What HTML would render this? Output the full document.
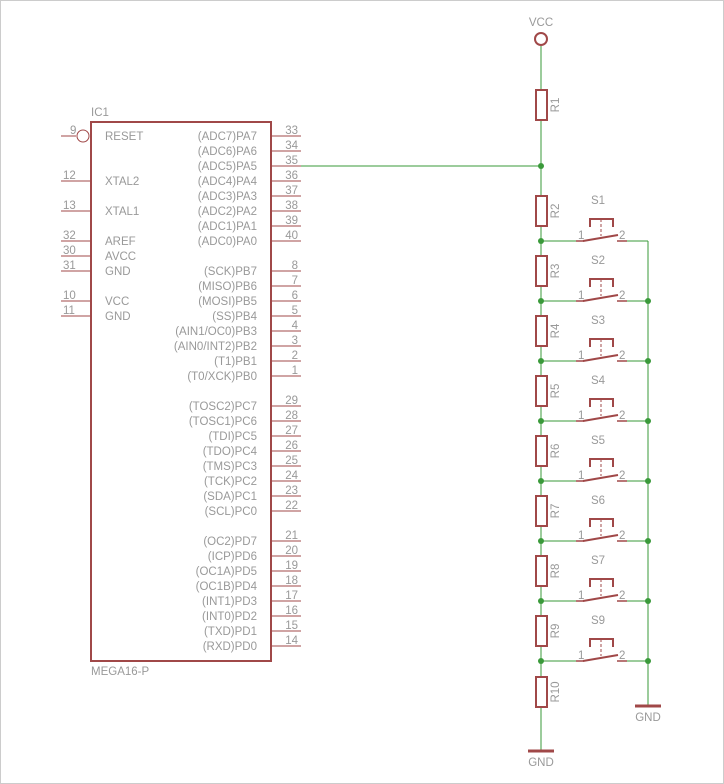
<!DOCTYPE html>
<html><head><style>body{margin:0;background:#fff}svg{display:block}text{font-family:"Liberation Sans",sans-serif;font-size:11.5px;fill:#999}</style></head><body>
<svg width="724" height="784" viewBox="0 0 724 784">
<rect x="0.5" y="0.5" width="723" height="783" fill="#fff" stroke="#ccc"/>
<g id="ic" stroke="#a04848" stroke-width="2" fill="none">
<rect x="91" y="122" width="180" height="539"/>
</g>
<g stroke="#a04848" stroke-width="1" id="pins"></g>
<g id="txt"></g>
<g id="sch"></g>
</svg>
<script>
const NS="http://www.w3.org/2000/svg";
function el(p,t,a,tx){const e=document.createElementNS(NS,t);for(const k in a)e.setAttribute(k,a[k]);if(tx!==undefined)e.textContent=tx;document.getElementById(p).appendChild(e);return e;}
const R="#a04848",G="#3a9a3a";
const L=[["9","RESET",136],["12","XTAL2",181],["13","XTAL1",211],["32","AREF",241],["30","AVCC",256],["31","GND",271],["10","VCC",301],["11","GND",316]];
L.forEach(([n,l,y],i)=>{
 el("pins","line",{x1:61,y1:y,x2:i==0?76:91,y2:y});
 el("txt","text",{x:i==0?70:63,y:y-2},n);
 el("txt","text",{x:105,y:y+4},l);
});
el("pins","circle",{cx:83,cy:136,r:6,fill:"none"});
const Rt=[["33","(ADC7)PA7"],["34","(ADC6)PA6"],["35","(ADC5)PA5"],["36","(ADC4)PA4"],["37","(ADC3)PA3"],["38","(ADC2)PA2"],["39","(ADC1)PA1"],["40","(ADC0)PA0"],
null,["8","(SCK)PB7"],["7","(MISO)PB6"],["6","(MOSI)PB5"],["5","(SS)PB4"],["4","(AIN1/OC0)PB3"],["3","(AIN0/INT2)PB2"],["2","(T1)PB1"],["1","(T0/XCK)PB0"],
null,["29","(TOSC2)PC7"],["28","(TOSC1)PC6"],["27","(TDI)PC5"],["26","(TDO)PC4"],["25","(TMS)PC3"],["24","(TCK)PC2"],["23","(SDA)PC1"],["22","(SCL)PC0"],
null,["21","(OC2)PD7"],["20","(ICP)PD6"],["19","(OC1A)PD5"],["18","(OC1B)PD4"],["17","(INT1)PD3"],["16","(INT0)PD2"],["15","(TXD)PD1"],["14","(RXD)PD0"]];
Rt.forEach((r,i)=>{if(!r)return;const y=136+i*15;
 el("pins","line",{x1:271,y1:y,x2:301,y2:y});
 el("txt","text",{x:298,y:y-2,"text-anchor":"end"},r[0]);
 el("txt","text",{x:257,y:y+4,"text-anchor":"end"},r[1]);
});
el("txt","text",{x:91,y:116},"IC1");
el("txt","text",{x:91,y:675},"MEGA16-P");
const X=541,XR=648;
el("sch","line",{x1:301,y1:166,x2:X,y2:166,stroke:G});
el("sch","line",{x1:X,y1:46,x2:X,y2:750,stroke:G});
el("sch","line",{x1:XR,y1:241,x2:XR,y2:706,stroke:G});
el("sch","circle",{cx:X,cy:39,r:6,fill:"#fff",stroke:R,"stroke-width":2});
el("txt","text",{x:X,y:26,"text-anchor":"middle"},"VCC");
function res(cy,name){el("sch","rect",{x:X-5,y:cy-15,width:11,height:30,fill:"#fff",stroke:R,"stroke-width":2});
 el("txt","text",{x:0,y:0,transform:`translate(${X+18},${cy}) rotate(-90)`,"text-anchor":"middle","font-size":"12.5"},name);}
res(105,"R1");res(211,"R2");
const ys=[241,301,361,421,481,541,601,661];
const sn=["S1","S2","S3","S4","S5","S6","S7","S9"];
for(let i=1;i<ys.length;i++)res((ys[i-1]+ys[i])/2,"R"+(i+2));
res(692,"R10");
ys.forEach((y,i)=>{
 el("sch","line",{x1:X,y1:y,x2:576,y2:y,stroke:G});
 el("sch","line",{x1:627,y1:y,x2:XR,y2:y,stroke:G});
 el("sch","line",{x1:576,y1:y,x2:584,y2:y,stroke:R,"stroke-width":1.5});
 el("sch","line",{x1:583,y1:y,x2:618,y2:y-6,stroke:R,"stroke-width":2});
 el("sch","line",{x1:617,y1:y,x2:627,y2:y,stroke:R,"stroke-width":1.5});
 el("sch","polyline",{points:`590,${y-14} 590,${y-22} 613,${y-22} 613,${y-14}`,fill:"none",stroke:R,"stroke-width":2});
 el("sch","line",{x1:601,y1:y-22,x2:601,y2:y-5,stroke:R,"stroke-dasharray":"3,2"});
 el("txt","text",{x:578,y:y-2},"1");
 el("txt","text",{x:619,y:y-2},"2");
 el("txt","text",{x:598,y:y-37,"text-anchor":"middle","font-size":"13"},sn[i]);
 el("sch","circle",{cx:X,cy:y,r:3,fill:G});
 if(i>0)el("sch","circle",{cx:XR,cy:y,r:3,fill:G});
});
el("sch","circle",{cx:X,cy:166,r:3,fill:G});
el("sch","line",{x1:X-13,y1:751,x2:X+13,y2:751,stroke:R,"stroke-width":3});
el("sch","line",{x1:XR-13,y1:706,x2:XR+13,y2:706,stroke:R,"stroke-width":3});
el("txt","text",{x:X,y:766,"text-anchor":"middle"},"GND");
el("txt","text",{x:XR,y:721,"text-anchor":"middle"},"GND");
</script>
</body></html>
